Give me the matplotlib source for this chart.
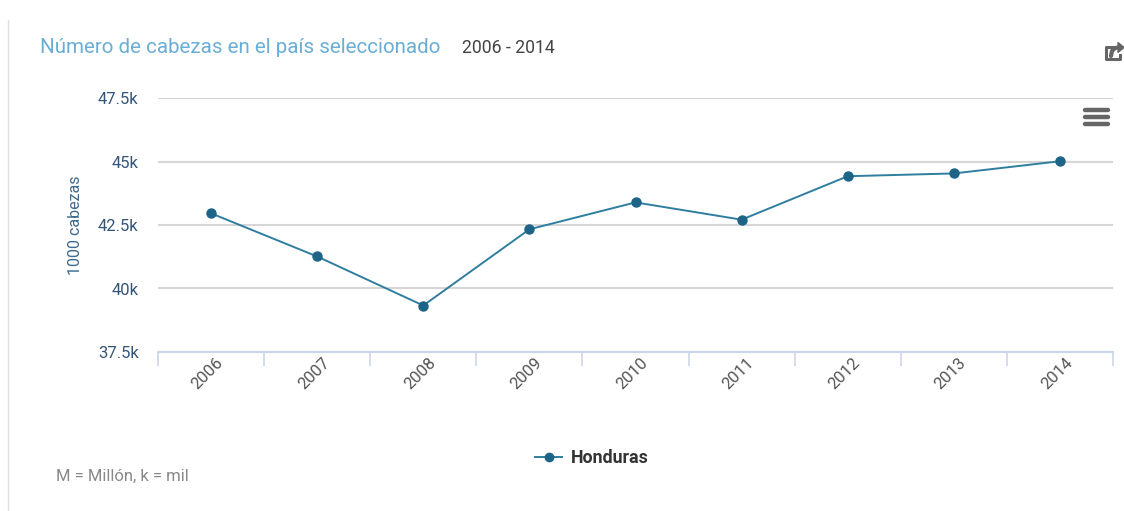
import matplotlib.pyplot as plt
import numpy as np
from matplotlib.lines import Line2D
from matplotlib.patches import Polygon
from matplotlib.ticker import FuncFormatter
from matplotlib.transforms import ScaledTranslation

plt.rcParams['font.family'] = ['Roboto', 'DejaVu Sans']

# Datos
anios = ['2006', '2007', '2008', '2009', '2010', '2011', '2012', '2013', '2014']
cabezas = [42960, 41260, 39330, 42330, 43390, 42710, 44420, 44530, 45010]
y_ticks = [37500, 40000, 42500, 45000, 47500]

color_linea = '#2f7ea0'
color_punto = '#1d6488'

fig = plt.figure(figsize=(11.24, 5.11), dpi=100)
ax = fig.add_axes([158 / 1124, 1 - 352 / 511, (1113 - 158) / 1124, (352 - 98) / 511])

x = np.arange(len(anios))
ax.plot(x, cabezas, color=color_linea, lw=1.4, marker='o', ms=6.5,
        mfc=color_punto, mec=color_punto, zorder=3, clip_on=False)

ax.set_xlim(-0.5, len(anios) - 0.5)
ax.set_ylim(37500, 47500)
ax.set_yticks(y_ticks)
ax.yaxis.set_major_formatter(FuncFormatter(lambda v, p: f'{v / 1000:g}k'))
ax.grid(axis='y', color='#d6d6d6', lw=1.5)
ax.set_axisbelow(True)

# eje x tipo categoria con marcas en los bordes
ax.set_xticks(x)
ax.set_xticklabels(anios, rotation=45, ha='right', va='center', rotation_mode='anchor',
                   fontsize=12, color='#555555')
ax.tick_params(axis='x', which='major', length=0, pad=6)
desplaza = ScaledTranslation(10 / 100, 0, fig.dpi_scale_trans)
for lbl in ax.get_xticklabels():
    lbl.set_transform(lbl.get_transform() + desplaza)
ax.set_xticks(np.arange(len(anios) + 1) - 0.5, minor=True)
ax.tick_params(axis='x', which='minor', length=10, width=1.2, color='#ccd6eb')
ax.tick_params(axis='y', length=0, pad=14, labelsize=12, labelcolor='#34557a')

for s in ['top', 'right', 'left']:
    ax.spines[s].set_visible(False)
ax.spines['bottom'].set_color('#ccd6eb')
ax.spines['bottom'].set_linewidth(1.5)

ax.set_ylabel('1000 cabezas', fontsize=11.5, color='#3e6a8e', labelpad=11)

# titulo y subtitulo
fig.text(40 / 1124, 1 - 47 / 511, 'Número de cabezas en el país seleccionado',
         fontsize=14.8, color='#6aaed6', va='center', ha='left')
fig.text(462 / 1124, 1 - 48 / 511, '2006 - 2014', fontsize=12.7, color='#444444',
         va='center', ha='left')

# leyenda
leg_handle = Line2D([], [], color=color_linea, lw=1.4, marker='o', ms=6,
                    mfc=color_punto, mec=color_punto)
leg = fig.legend([leg_handle], ['Honduras'], loc='center', bbox_to_anchor=(592 / 1124, 1 - 458 / 511),
                 frameon=False, handlelength=1.5, handletextpad=0.5,
                 prop={'weight': 'bold', 'size': 12.8})
leg.get_texts()[0].set_color('#333333')

fig.text(56 / 1124, 1 - 476 / 511, 'M = Millón, k = mil', fontsize=12, color='#888888',
         va='center', ha='left')

# borde izquierdo del panel
fig.add_artist(Line2D([8 / 1124, 8 / 1124], [0, 1 - 20 / 511], color='#e0e0e0', lw=1))

# menu (hamburguesa)
for yy in [110, 117, 124]:
    fig.add_artist(Line2D([1085 / 1124, 1108 / 1124], [1 - yy / 511, 1 - yy / 511],
                          color='#666666', lw=3.2, solid_capstyle='round'))

# icono compartir: caja abierta con flecha curva
W, H = 1124, 511
caja_x = [1113, 1106, 1106, 1120, 1120]
caja_y = [47, 47, 59, 59, 55]
fig.add_artist(Line2D([v / W for v in caja_x], [1 - v / H for v in caja_y],
                      color='#666666', lw=2.2, solid_joinstyle='round'))
flecha_x = [1111, 1112, 1115, 1119]
flecha_y = [56, 51, 48, 47.5]
fig.add_artist(Line2D([v / W for v in flecha_x], [1 - v / H for v in flecha_y],
                      color='#666666', lw=3.0, solid_capstyle='round'))
punta = [(1118 / W, 1 - 42.5 / H), (1124 / W, 1 - 47.5 / H), (1118 / W, 1 - 52.5 / H)]
fig.add_artist(Polygon(punta, closed=True, color='#666666', transform=fig.transFigure))

fig.savefig('out.png', dpi=100)
